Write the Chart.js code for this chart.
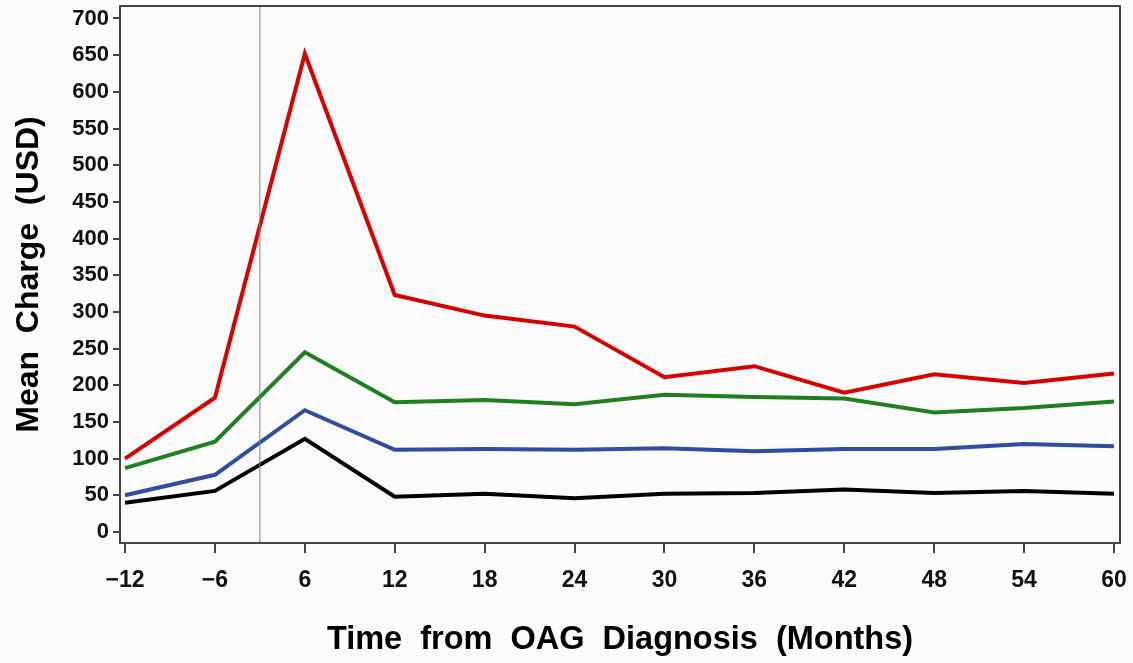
<!DOCTYPE html>
<html>
<head>
<meta charset="utf-8">
<script src="https://cdn.jsdelivr.net/npm/chart.js@4/dist/chart.umd.min.js"></script>
<style>
  html, body { margin: 0; padding: 0; background: #fbfbfb; }
  #wrap { width: 1133px; height: 663px; }
</style>
</head>
<body>
<div id="wrap"><canvas id="chartCargos"></canvas></div>
<script>
// Meses desde el diagnóstico (categorías equiespaciadas)
const meses = ['\u221212', '\u22126', '6', '12', '18', '24', '30', '36', '42', '48', '54', '60'];

const serieRoja  = [100, 183, 652, 323, 295, 280, 211, 226, 190, 215, 203, 216];
const serieVerde = [87, 123, 245, 177, 180, 174, 187, 184, 182, 163, 169, 178];
const serieAzul  = [50, 78, 166, 112, 113, 112, 114, 110, 113, 113, 120, 117];
const serieNegra = [40, 56, 127, 48, 52, 46, 52, 53, 58, 53, 56, 52];

// Línea de referencia en el diagnóstico (entre -6 y 6)
const posDiagnostico = 1.5;
const yMin = -15;
const yMax = 717;

const fuente = "'Liberation Sans', Arial, sans-serif";
const colorEje = '#444';

function aPuntos(arr) {
    return arr.map((v, i) => ({ x: i, y: v }));
}

const marcoPlugin = {
    id: 'marco',
    afterDraw(chart) {
        const { ctx, chartArea: a } = chart;
        ctx.save();
        ctx.strokeStyle = colorEje;
        ctx.lineWidth = 2;
        ctx.strokeRect(a.left, a.top, a.right - a.left, a.bottom - a.top);
        ctx.restore();
    }
};

const ctx = document.getElementById('chartCargos').getContext('2d');

const chartCargosInstance = new Chart(ctx, {
    type: 'line',
    data: {
        datasets: [
            {
                data: [{ x: posDiagnostico, y: yMin }, { x: posDiagnostico, y: yMax }],
                borderColor: '#808080', borderWidth: 1, pointRadius: 0
            },
            { data: aPuntos(serieRoja),  borderColor: '#d90000', borderWidth: 4, pointRadius: 0 },
            { data: aPuntos(serieVerde), borderColor: '#20801f', borderWidth: 4, pointRadius: 0 },
            { data: aPuntos(serieAzul),  borderColor: '#2d4ea3', borderWidth: 4, pointRadius: 0 },
            { data: aPuntos(serieNegra), borderColor: '#000000', borderWidth: 4, pointRadius: 0 }
        ]
    },
    options: {
        responsive: true,
        maintainAspectRatio: false,
        animation: false,
        layout: { padding: { top: 6, right: 13, left: 0, bottom: 0 } },
        plugins: {
            legend: { display: false },
            tooltip: { enabled: false }
        },
        scales: {
            x: {
                type: 'linear',
                min: -0.056,
                max: 11.067,
                afterFit: (s) => {
                    s.height = 120;
                    s.paddingLeft = 0;
                    s.paddingRight = 0;
                },
                border: { display: false },
                grid: { drawOnChartArea: false, drawTicks: true, tickLength: 10, color: colorEje, lineWidth: 2 },
                ticks: {
                    stepSize: 1,
                    includeBounds: false,
                    autoSkip: false,
                    maxRotation: 0,
                    padding: 14,
                    color: '#111',
                    font: { family: fuente, size: 23, weight: 'bold' },
                    callback: (v) => meses[v]
                },
                title: {
                    display: true,
                    text: 'Time  from  OAG  Diagnosis  (Months)',
                    color: '#000',
                    font: { family: fuente, size: 32.5, weight: 'bold' },
                    padding: { top: 0, bottom: 3 }
                }
            },
            y: {
                min: yMin,
                max: yMax,
                afterFit: (s) => {
                    s.width = 120;
                    s.paddingTop = 0;
                    s.paddingBottom = 0;
                },
                border: { display: false },
                grid: { drawOnChartArea: false, drawTicks: true, tickLength: 7, color: colorEje, lineWidth: 2 },
                ticks: {
                    stepSize: 50,
                    includeBounds: false,
                    padding: 4,
                    color: '#111',
                    font: { family: fuente, size: 22, weight: 'bold' }
                },
                title: {
                    display: true,
                    text: 'Mean  Charge  (USD)',
                    color: '#000',
                    font: { family: fuente, size: 32, weight: 'bold' },
                    padding: { top: 10, bottom: 0 }
                }
            }
        }
    },
    plugins: [marcoPlugin]
});
</script>
</body>
</html>
